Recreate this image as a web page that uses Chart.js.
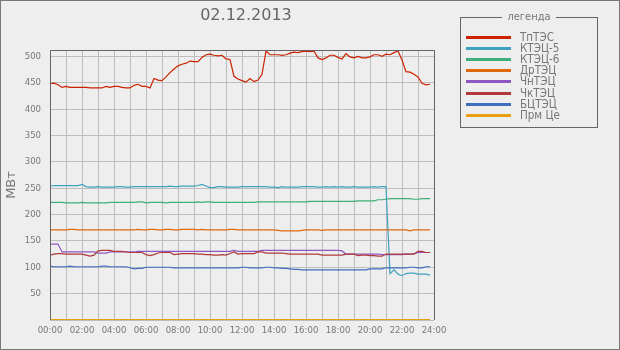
<!DOCTYPE html>
<html><head><meta charset="utf-8">
<script src="https://cdn.jsdelivr.net/npm/chart.js@4"></script>
<style>
html,body{margin:0;padding:0;background:#eeeeee;}
#wrap{position:relative;width:620px;height:350px;overflow:hidden;background:#eeeeee;}
#frame{position:absolute;left:0;top:0;width:620px;height:350px;box-sizing:border-box;border:1px solid #777;pointer-events:none;}
#title{position:absolute;left:0;width:492px;top:5px;text-align:center;font:16px "DejaVu Sans",sans-serif;color:#666;}
#legend{position:absolute;left:460px;top:17px;width:138px;height:111px;box-sizing:border-box;border:1px solid #666;font:11px "DejaVu Sans Condensed","DejaVu Sans",sans-serif;color:#777;}
#legend .lt{position:absolute;top:-8px;left:0;width:100%;text-align:center;}
#legend .lt span{background:#eeeeee;padding:0 5px;}
#legend .row{position:absolute;left:5px;height:11px;}
#legend .sw{position:absolute;left:0;top:4px;width:45px;height:3px;}
#legend .tx{position:absolute;left:54px;top:-2px;white-space:nowrap;font-size:11.5px;}
</style></head><body>
<div id="wrap">
<canvas id="c" width="620" height="350"></canvas>
<div id="title">02.12.2013</div>
<div id="legend"><div class="lt"><span>легенда</span></div></div>
<div id="frame"></div>
</div>
<script>
const seriesNames = ['ТпТЭС','КТЭЦ-5','КТЭЦ-6','ДрТЭЦ','ЧнТЭЦ','ЧкТЭЦ','БЦТЭЦ','Прм Це'];
const seriesColors = ['#cc2200','#40a2be','#3fae7a','#e0680f','#8e58c2','#b03a3a','#3f6ec0','#e8a012'];
const xTickLabels = ['00:00','02:00','04:00','06:00','08:00','10:00','12:00','14:00','16:00','18:00','20:00','22:00','24:00'];
const yTickValues = [50,100,150,200,250,300,350,400,450,500];
// 15-minute samples, 00:00 .. 23:45
const tpTES = [448,449,446,441,443,441,441,441,441,441,440,440,440,440,443,441,443,443,441,440,440,445,447,443,443,440,458,455,454,461,469,476,482,485,487,491,490,490,498,503,504,502,501,502,495,494,462,457,454,451,458,452,455,466,510,503,503,503,502,503,506,508,507,509,510,509,510,497,494,497,502,502,498,495,505,499,497,500,497,497,499,503,503,500,504,503,507,510,493,471,470,466,461,449,446,447];
const ktec5 = [254,255,255,255,255,255,255,255,257,253,252,252,253,252,252,252,252,253,253,252,252,253,253,253,253,253,253,253,253,253,254,253,253,254,254,254,254,255,257,254,251,251,253,253,252,252,252,252,253,253,253,253,253,253,253,252,252,251,253,252,252,252,252,253,253,253,253,252,252,253,252,253,252,253,252,252,253,252,252,252,252,253,252,253,253,88,95,87,84,88,89,89,87,87,87,85];
const ktec6 = [223,223,223,223,222,222,222,222,223,222,222,222,222,222,222,223,223,223,223,223,223,223,224,224,222,223,223,223,223,222,223,223,223,223,223,223,223,224,223,224,224,223,223,223,223,223,223,223,223,223,223,223,224,224,224,224,224,224,224,224,224,224,224,224,224,225,225,225,225,225,225,225,225,225,225,225,225,226,226,226,226,226,228,228,229,230,230,230,230,230,230,229,229,230,230,230];
const drTEC = [171,171,171,171,171,172,172,171,171,171,171,171,171,171,171,171,171,171,171,171,171,171,172,171,171,172,172,171,171,172,172,171,171,172,172,172,172,171,172,171,171,171,171,171,171,172,172,171,171,171,171,171,171,171,171,171,171,170,169,169,169,169,169,170,171,171,171,171,170,171,171,171,171,171,171,171,171,171,171,171,171,171,171,171,171,171,171,171,171,171,169,171,171,171,171,171];
const chnTEC = [144,144,144,129,129,129,129,129,129,129,129,129,127,127,127,129,129,129,129,129,129,129,130,130,130,130,130,130,130,130,130,130,130,130,130,130,130,130,130,130,130,130,130,130,130,130,132,130,130,130,130,130,130,132,132,132,132,132,132,132,132,132,132,132,132,132,132,132,132,132,132,132,132,131,125,125,125,125,125,125,125,125,125,124,124,124,124,124,124,125,125,126,128,128,128,128];
const chkTEC = [123,125,126,126,125,125,125,125,125,123,121,123,131,132,132,132,130,130,130,129,128,128,128,128,124,122,124,127,128,128,128,124,125,126,126,126,126,125,125,124,124,123,123,124,123,126,129,125,126,126,126,126,129,129,127,127,127,127,127,126,125,125,125,125,125,125,125,125,123,123,123,123,123,123,125,125,125,122,123,123,122,122,121,121,125,125,125,125,125,125,125,125,130,130,128,128];
const bcTEC = [102,101,101,101,101,102,101,101,101,101,101,101,101,102,102,101,101,101,101,101,99,97,98,98,100,100,100,100,100,100,100,99,99,99,99,99,99,99,99,99,99,99,99,99,99,99,99,99,100,100,99,99,99,99,100,100,99,99,98,98,97,96,96,95,95,95,95,95,95,95,95,95,95,95,95,95,95,95,95,95,97,97,97,97,99,99,99,99,99,99,100,100,99,99,101,101];
const prmCe = [0,0,0,0,0,0,0,0,0,0,0,0,0,0,0,0,0,0,0,0,0,0,0,0,0,0,0,0,0,0,0,0,0,0,0,0,0,0,0,0,0,0,0,0,0,0,0,0,0,0,0,0,0,0,0,0,0,0,0,0,0,0,0,0,0,0,0,0,0,0,0,0,0,0,0,0,0,0,0,0,0,0,0,0,0,0,0,0,0,0,0,0,0,0,0,0];
const seriesValues = [tpTES,ktec5,ktec6,drTEC,chnTEC,chkTEC,bcTEC,prmCe];
const hours = tpTES.map((_, i) => i / 4);

// HTML legend
const lg = document.getElementById('legend');
seriesNames.forEach((n, i) => {
  const r = document.createElement('div');
  r.className = 'row';
  r.style.top = (14 + i * 11.1) + 'px';
  r.innerHTML = '<div class="sw" style="background:' + seriesColors[i] + '"></div><div class="tx">' + n + '</div>';
  lg.appendChild(r);
});

const frame = {
  id: 'frame',
  afterDraw(chart) {
    const a = chart.chartArea, ctx = chart.ctx;
    ctx.save();
    ctx.strokeStyle = '#666';
    ctx.lineWidth = 1;
    ctx.beginPath();
    ctx.moveTo(Math.round(a.left) + 0.5, Math.round(a.bottom));
    ctx.lineTo(Math.round(a.left) + 0.5, Math.round(a.top) + 0.5);
    ctx.lineTo(Math.round(a.right) + 0.5, Math.round(a.top) + 0.5);
    ctx.lineTo(Math.round(a.right) + 0.5, Math.round(a.bottom));
    ctx.stroke();
    ctx.restore();
  }
};

const ticksFont = { family: '"DejaVu Sans Condensed", "DejaVu Sans", sans-serif', size: 9.5 };
new Chart(document.getElementById('c'), {
  type: 'line',
  data: {
    datasets: seriesNames.map((n, i) => ({
      label: n,
      data: seriesValues[i].map((v, j) => ({ x: hours[j], y: v })),
      borderColor: seriesColors[i],
      backgroundColor: seriesColors[i],
      borderWidth: i === 7 ? 2 : 1.2,
      pointRadius: 0,
      tension: 0,
      fill: false
    })).reverse()
  },
  options: {
    responsive: false,
    animation: false,
    events: [],
    layout: { padding: { left: 0, right: 186, top: 50, bottom: 0 } },
    plugins: { legend: { display: false }, title: { display: false }, tooltip: { enabled: false } },
    scales: {
      x: {
        type: 'linear', min: 0, max: 24,
        afterFit(s) { s.height = 30; },
        ticks: {
          stepSize: 1, autoSkip: false, maxRotation: 0, color: '#777', font: ticksFont, padding: 5,
          callback: v => (v % 2 === 0 ? xTickLabels[v / 2] : '')
        },
        grid: { color: '#bdbdbd', lineWidth: 1, drawTicks: false },
        border: { display: false }
      },
      y: {
        min: 0, max: 512,
        afterFit(s) { s.width = 50; },
        afterBuildTicks(s) { s.ticks = [0].concat(yTickValues).map(v => ({ value: v })); },
        ticks: { color: '#777', font: ticksFont, padding: 9, callback: v => (v === 0 ? '' : String(v)) },
        grid: { color: '#bdbdbd', lineWidth: 1, drawTicks: false },
        border: { display: false },
        title: { display: true, text: 'МВт', color: '#777', font: { family: 'DejaVu Sans', size: 13 }, padding: { top: 4, bottom: 0 } }
      }
    }
  },
  plugins: [frame]
});
</script>
</body></html>
